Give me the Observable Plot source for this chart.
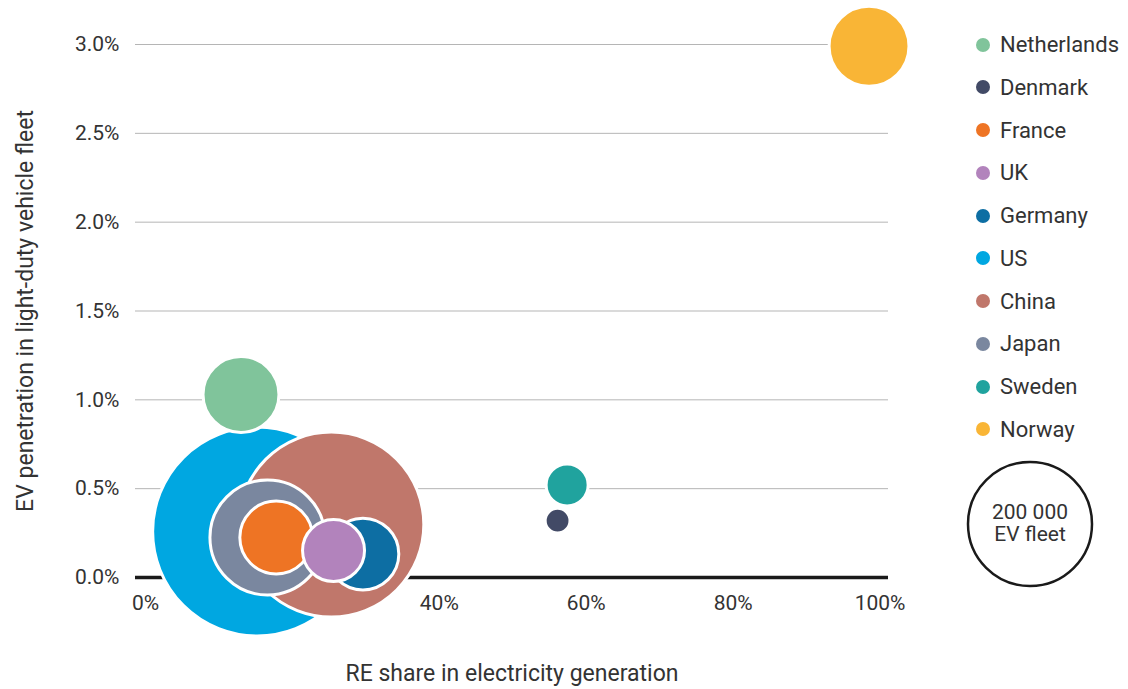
<!DOCTYPE html>
<html>
<head>
<meta charset="utf-8">
<script src="https://cdn.jsdelivr.net/npm/d3@7"></script>
<script src="https://cdn.jsdelivr.net/npm/@observablehq/plot@0.6"></script>
<style>
  html, body { margin: 0; padding: 0; background: #fff; }
  #wrap { position: relative; width: 1128px; height: 689px; font-family: Roboto, "Open Sans", sans-serif; color: #333; }
  #legend { position: absolute; left: 0; top: 0; }
  .item { position: absolute; left: 976px; height: 26px; display: flex; align-items: center; font-size: 22px; white-space: nowrap; }
  .sw { width: 14px; height: 14px; border-radius: 50%; margin-right: 10px; }
</style>
</head>
<body>
<div id="wrap"></div>
<script>
// ---- data ----
const countries = ["Netherlands", "Denmark", "France", "UK", "Germany", "US", "China", "Japan", "Sweden", "Norway"];
const reShare = [0.130, 0.561, 0.178, 0.256, 0.296, 0.152, 0.253, 0.166, 0.574, 0.985];
const evPenetration = [0.0103, 0.0032, 0.00225, 0.00152, 0.00132, 0.00259, 0.00298, 0.00225, 0.00521, 0.0299];
const evFleet = [75000, 8000, 69000, 50000, 67000, 568000, 445000, 172000, 23000, 83000];
const colors = ["#80c49b", "#424a66", "#ee7424", "#b283bc", "#0d6ea3", "#00a7e1", "#c0776b", "#7a879f", "#20a39e", "#f9b536"];
const xTicks = [0, 0.2, 0.4, 0.6, 0.8, 1.0];
const yTicks = [0, 0.005, 0.01, 0.015, 0.02, 0.025, 0.03];
const sizeRef = 200000;
const sizeLabel = ["200 000", "EV fleet"];
const xTitle = "RE share in electricity generation";
const yTitle = "EV penetration in light-duty vehicle fleet";

const data = countries.map((c, i) => ({country: c, x: reShare[i], y: evPenetration[i], fleet: evFleet[i], color: colors[i]}));

const plot = Plot.plot({
  width: 1128,
  height: 689,
  marginLeft: 135,
  marginRight: 240,
  marginTop: 44,
  marginBottom: 112,
  style: {fontFamily: "Roboto, 'Open Sans', sans-serif", fontSize: "21px", color: "#333", background: "transparent"},
  x: {domain: [-0.0136, 1.0115]},
  y: {domain: [0, 0.03]},
  r: {type: "sqrt", domain: [0, sizeRef], range: [0, 62]},
  marks: [
    Plot.ruleY(yTicks.filter(d => d > 0), {stroke: "#b5b5b5", strokeWidth: 1}),
    Plot.ruleY([0], {stroke: "#1a1a1a", strokeWidth: 3.5}),
    Plot.axisX({ticks: xTicks, tickSize: 0, tickPadding: 18, tickFormat: d => Math.round(d * 100) + "%", label: null, fontSize: 21}),
    Plot.axisY({ticks: yTicks, tickSize: 0, tickPadding: 16, tickFormat: d => (d * 100).toFixed(1) + "%", label: null, fontSize: 21}),
    Plot.dot(data, {x: "x", y: "y", r: "fleet", fill: "color", stroke: "white", strokeWidth: 3}),
    Plot.text([xTitle], {frameAnchor: "bottom", dy: 96, lineAnchor: "middle", textAnchor: "middle", fontSize: 23, fill: "#333"}),
    Plot.text([yTitle], {frameAnchor: "left", dx: -110, rotate: -90, lineAnchor: "middle", textAnchor: "middle", fontSize: 23, fill: "#333"})
  ]
});

const wrap = document.getElementById("wrap");
wrap.appendChild(plot);

// ---- legend ----
const legend = document.createElement("div");
legend.id = "legend";
countries.forEach((c, i) => {
  const item = document.createElement("div");
  item.className = "item";
  const cy = 44.5 + i * 42.75;
  item.style.top = (cy - 13) + "px";
  const sw = document.createElement("div");
  sw.className = "sw";
  sw.style.background = colors[i];
  const t = document.createElement("span");
  t.textContent = c;
  item.appendChild(sw);
  item.appendChild(t);
  legend.appendChild(item);
});
wrap.appendChild(legend);

// size legend using the plot's r scale
const rRef = plot.scale("r").apply(sizeRef);
const svg = d3.select(wrap).append("svg")
  .attr("width", 160).attr("height", 160)
  .style("position", "absolute").style("left", (1030 - 80) + "px").style("top", (524 - 80) + "px");
svg.append("circle").attr("cx", 80).attr("cy", 80).attr("r", rRef)
  .attr("fill", "white").attr("stroke", "#1a1a1a").attr("stroke-width", 2.5);
sizeLabel.forEach((s, i) => {
  svg.append("text").attr("x", 80).attr("y", 69 + i * 22).attr("text-anchor", "middle").attr("dominant-baseline", "middle")
    .style("font-family", "Roboto, 'Open Sans', sans-serif").style("font-size", "21px").attr("fill", "#333").text(s);
});
</script>
</body>
</html>
